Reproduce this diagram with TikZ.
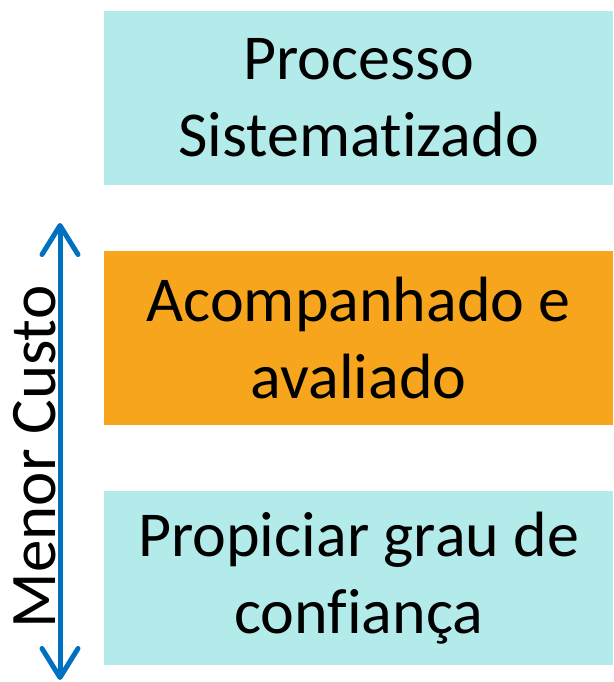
\documentclass[tikz,border=0pt]{standalone}
\usepackage{fontspec}
\setmainfont[Ligatures=NoCommon]{Carlito}
\usetikzlibrary{arrows.meta}
\definecolor{cyanbox}{HTML}{B2EBEA}
\definecolor{orangebox}{HTML}{F7A51D}
\definecolor{arrowblue}{HTML}{0070C0}
\begin{document}
\begin{tikzpicture}[x=1pt,y=-1pt,
  box/.style={minimum width=509pt, minimum height=174pt, anchor=north west, inner sep=0pt,
    align=center, font=\fontsize{64}{77}\selectfont, text=black},
  costarrow/.style={draw=arrowblue, line width=5pt,
    {Straight Barb[length=29pt,width=36pt,round]}-{Straight Barb[length=29pt,width=36pt,round]}}]
\useasboundingbox (0,0) rectangle (613,682);
\node[box, fill=cyanbox] (top) at (104,11) {Processo\\Sistematizado};
\node[box, fill=orangebox] (mid) at (104,251) {Acompanhado e\\avaliado};
\node[box, fill=cyanbox] (bot) at (104,491) {Propiciar grau de\\conf{}iança};
\coordinate (atop) at (60,223);
\coordinate (abot) at (60,680);
\node[rotate=90, font=\fontsize{65}{70}\selectfont, inner sep=0pt, anchor=base] (cost) at (55,457) {Menor Custo};
\draw[costarrow] (atop) -- (abot);
\end{tikzpicture}
\end{document}
